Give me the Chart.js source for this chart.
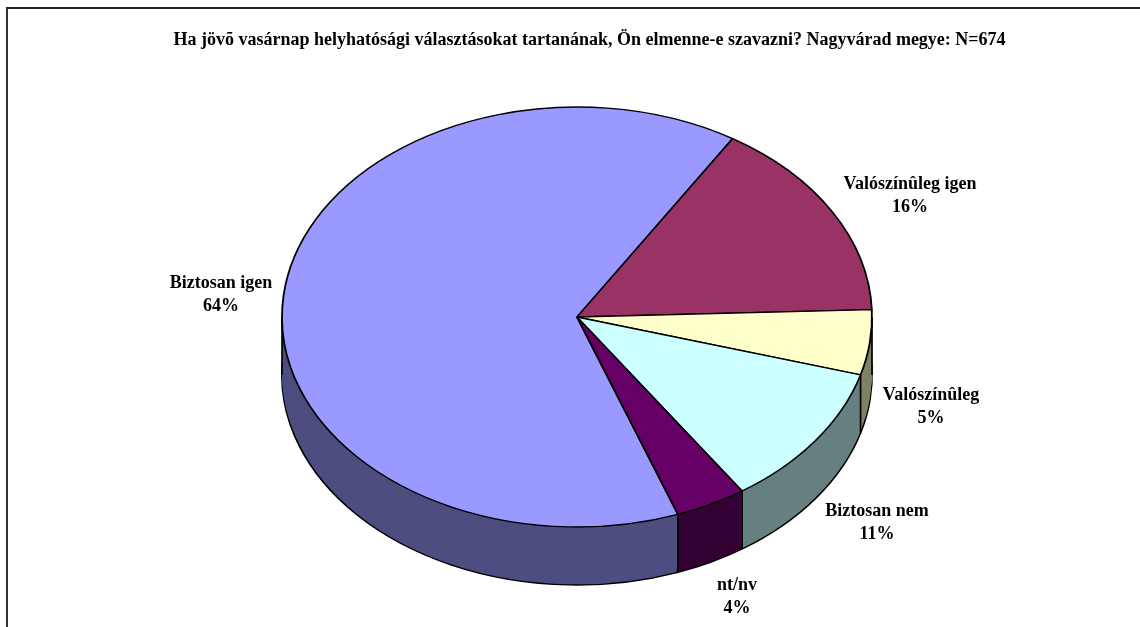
<!DOCTYPE html>
<html>
<head>
<meta charset="utf-8">
<script src="https://cdn.jsdelivr.net/npm/chart.js@4"></script>
<style>
  html, body { margin: 0; padding: 0; background: #fff; overflow: hidden; }
  #frame { position: absolute; left: 6px; top: 7px; width: 1134px; height: 620px; border-left: 2px solid #333; border-top: 2px solid #222; box-sizing: border-box; }
  canvas { position: absolute; left: 0; top: 0; }
</style>
</head>
<body>
<div id="frame"></div>
<canvas id="pie3d" width="1140" height="627"></canvas>
<script>
const titleText = 'Ha jövõ vasárnap helyhatósági választásokat tartanának, Ön elmenne-e szavazni? Nagyvárad megye: N=674';
const categories = ['Biztosan igen', 'Valószínûleg igen', 'Valószínûleg', 'Biztosan nem', 'nt/nv'];
const shares = [64.4, 15.6, 5.0, 11.1, 3.9];
const topColors = ['#9999FF', '#993366', '#FFFFCC', '#CCFFFF', '#660066'];
const wallColors = ['#4D4D80', '#4D1A33', '#808066', '#668080', '#330033'];

// where the ellipse ends up on the page
const cx = 577, cy = 317, rx = 295, ry = 210, depth = 58;
// centre of each label block
const labelSpots = [[221, 283], [910, 184], [931, 395], [877, 511], [737, 585]];
const edgeWidth = 1.7;

function place(ctx, arc, dy) {
    const r = arc.outerRadius;
    ctx.translate(cx, cy + dy);
    ctx.scale(rx / r, ry / r);
    ctx.translate(-arc.x, -arc.y);
}

// tilts the pie and stacks darker copies of each slice under it
const tiltPlugin = {
    id: 'tilt',
    beforeDatasetsDraw(chart) {
        const ctx = chart.ctx;
        const arcs = chart.getDatasetMeta(0).data;
        for (let s = depth; s > 0; s -= 2) {
            arcs.forEach((arc, i) => {
                const saved = arc.options;
                const o = Object.create(saved);
                o.backgroundColor = wallColors[i];
                o.borderColor = '#000';
                o.borderWidth = s === depth ? edgeWidth : 0;
                arc.options = o;
                ctx.save();
                place(ctx, arc, s);
                arc.draw(ctx);
                ctx.restore();
                arc.options = saved;
            });
        }
        // wall edges
        ctx.save();
        ctx.strokeStyle = '#000';
        ctx.lineWidth = edgeWidth;
        const edges = [0, Math.PI];
        arcs.forEach(arc => { if (Math.sin(arc.startAngle) > 0) edges.push(arc.startAngle); });
        edges.forEach(a => {
            const x = cx + rx * Math.cos(a), y = cy + ry * Math.sin(a);
            ctx.beginPath();
            ctx.moveTo(x, y);
            ctx.lineTo(x, y + depth);
            ctx.stroke();
        });
        ctx.restore();
        ctx.save();
        place(ctx, arcs[0], 0);
    },
    afterDatasetsDraw(chart) {
        const ctx = chart.ctx;
        ctx.restore();
        ctx.save();
        ctx.font = 'bold 18px "Liberation Serif"';
        ctx.fillStyle = '#000';
        ctx.textAlign = 'center';
        ctx.textBaseline = 'middle';
        categories.forEach((c, i) => {
            const [x, y] = labelSpots[i];
            ctx.fillText(c, x, y);
            ctx.fillText(Math.round(shares[i]) + '%', x, y + 23);
        });
        ctx.restore();
    }
};

new Chart(document.getElementById('pie3d').getContext('2d'), {
    type: 'pie',
    data: {
        labels: categories,
        datasets: [{
            data: shares,
            backgroundColor: topColors,
            borderColor: '#000',
            borderWidth: edgeWidth,
            clip: false
        }]
    },
    options: {
        responsive: false,
        animation: false,
        rotation: 160,
        layout: { padding: { left: 39, right: 0, top: 0, bottom: 20 } },
        plugins: {
            legend: { display: false },
            tooltip: { enabled: false },
            title: {
                display: true,
                fullSize: false,
                text: titleText,
                color: '#000',
                font: { family: '"Liberation Serif"', size: 18, weight: 'bold' },
                padding: { top: 30, bottom: 10 }
            }
        }
    },
    plugins: [tiltPlugin]
});
</script>
</body>
</html>
